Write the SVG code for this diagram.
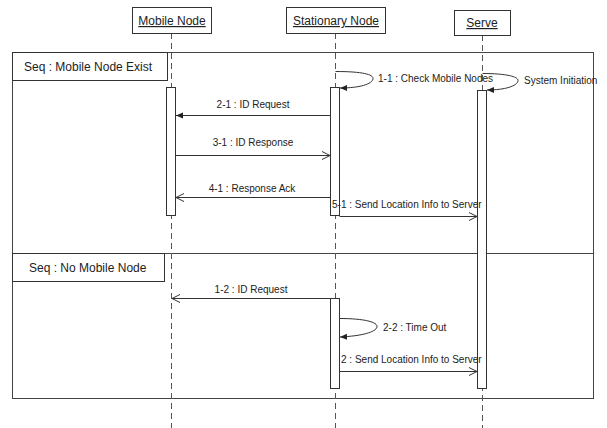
<svg xmlns="http://www.w3.org/2000/svg" width="607" height="428" viewBox="0 0 607 428">
<style>
text{font-family:"Liberation Sans",Arial,sans-serif;fill:#222}
.head{font-size:12px;text-decoration:underline;text-anchor:middle}
.lbl{font-size:10px}
.mid{text-anchor:middle}
.frame{font-size:12px}
.box{fill:#fff;stroke:#333;stroke-width:1}
.fr{fill:none;stroke:#444;stroke-width:1}
.life{stroke:#555;stroke-width:1;stroke-dasharray:6 4;fill:none}
.act{fill:#fff;stroke:#333;stroke-width:1}
.msg{fill:none;stroke:#333;stroke-width:1}
.sync{marker-end:url(#filled)}
.async{marker-end:url(#open)}
</style>
<defs>
<marker id="filled" viewBox="0 0 8 8" refX="7" refY="4" markerWidth="8" markerHeight="8" markerUnits="userSpaceOnUse" orient="auto">
<path d="M0,1 L7,4 L0,7 z" fill="#222"/>
</marker>
<marker id="open" viewBox="0 0 10 10" refX="9" refY="5" markerWidth="10" markerHeight="10" markerUnits="userSpaceOnUse" orient="auto">
<path d="M1,1 L9,5 L1,9" fill="none" stroke="#333" stroke-width="1"/>
</marker>
</defs>

<g id="frames">
<rect class="fr" x="12.5" y="52.5" width="581" height="201"/>
<rect class="fr" x="12.5" y="253.5" width="581" height="145"/>
<rect class="box" x="12.5" y="52.5" width="155" height="28"/>
<text class="frame" x="24" y="71">Seq : Mobile Node Exist</text>
<rect class="box" x="12.5" y="253.5" width="152" height="28"/>
<text class="frame" x="29" y="272">Seq : No Mobile Node</text>
</g>

<g id="lifelines">
<line class="life" x1="171.5" y1="33" x2="171.5" y2="428"/>
<line class="life" x1="335.5" y1="33" x2="335.5" y2="428"/>
<line class="life" x1="482.5" y1="35" x2="482.5" y2="428"/>
</g>

<g id="mobile-node">
<rect class="box" x="132.5" y="7.5" width="79" height="26"/>
<text class="head" x="172" y="25">Mobile Node</text>
<rect class="act" x="166.5" y="87.5" width="9" height="128"/>
</g>

<g id="stationary-node">
<rect class="box" x="286.5" y="7.5" width="99" height="26"/>
<text class="head" x="336" y="25">Stationary Node</text>
<rect class="act" x="330.5" y="87.5" width="9" height="128"/>
<rect class="act" x="330.5" y="298.5" width="9" height="90"/>
</g>

<g id="serve">
<rect class="box" x="454.5" y="10.5" width="56" height="25"/>
<text class="head" x="482" y="27">Serve</text>
<rect class="act" x="477.5" y="90.5" width="9" height="298"/>
</g>

<g id="connectors">
<path class="msg sync" d="M335.5,71.5 C365,71.5 374,75 373,79 C372,84 360,88 340,88"/>
<path class="msg sync" d="M482.5,73.5 C508,73.5 519,77 518,81 C517,86 505,90 487,90"/>
<line class="msg sync" x1="330.5" y1="115.5" x2="176" y2="115.5"/>
<line class="msg async" x1="175.5" y1="155.5" x2="330" y2="155.5"/>
<line class="msg async" x1="330.5" y1="197.5" x2="176" y2="197.5"/>
<line class="msg async" x1="339.5" y1="216.5" x2="477" y2="216.5"/>
<line class="msg async" x1="330.5" y1="298.5" x2="172" y2="298.5"/>
<path class="msg sync" d="M339.5,318.5 C364,318.5 378,322 377,327 C376,332 362,336 340,337"/>
<line class="msg async" x1="339.5" y1="371.5" x2="477" y2="371.5"/>
</g>

<g id="labels">
<text class="lbl" x="378" y="82">1-1 : Check Mobile Nodes</text>
<text class="lbl" x="524" y="84">System Initiation</text>
<text class="lbl mid" x="253" y="108">2-1 : ID Request</text>
<text class="lbl mid" x="253" y="146">3-1 : ID Response</text>
<text class="lbl mid" x="252" y="192">4-1 : Response Ack</text>
<text class="lbl" x="332" y="208">5-1 : Send Location Info to Server</text>
<text class="lbl mid" x="251" y="293">1-2 : ID Request</text>
<text class="lbl" x="383" y="331">2-2 : Time Out</text>
<text class="lbl" x="341" y="363">2 : Send Location Info to Server</text>
</g>
</svg>
